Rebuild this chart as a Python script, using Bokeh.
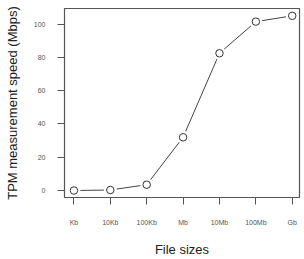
from bokeh.plotting import figure
from bokeh.models import FixedTicker, Range1d, ColumnDataSource
from bokeh.embed import file_html
from bokeh.resources import INLINE

categories = ["Kb", "10Kb", "100Kb", "Mb", "10Mb", "100Mb", "Gb"]
speeds = [0.0, 0.3, 3.5, 32.0, 82.5, 101.5, 105.0]
y_ticks = [0, 20, 40, 60, 80, 100]
x_title = "File sizes"
y_title = "TPM measurement speed (Mbps)"

xs = list(range(1, len(categories) + 1))
src = ColumnDataSource(dict(x=xs, y=speeds))

p = figure(width=304, height=259, output_backend="svg", toolbar_location=None,
           x_range=Range1d(0.74, 7.2), y_range=Range1d(-4.2, 109.4))
p.min_border_left = 64
p.min_border_right = 5
p.min_border_top = 8
p.min_border_bottom = 62
p.xgrid.visible = False
p.ygrid.visible = False
p.background_fill_color = "white"
p.border_fill_color = "white"
p.outline_line_color = "#555555"
p.outline_line_width = 1.2

p.line("x", "y", source=src, line_color="#444444", line_width=1)
p.scatter("x", "y", source=src, size=13, fill_color="white", line_color=None)
p.scatter("x", "y", source=src, size=7.5, fill_color="white", line_color="#333333", line_width=1)

for ax in (p.xaxis[0], p.yaxis[0]):
    ax.axis_line_color = "#555555"
    ax.major_tick_line_color = "#555555"
    ax.major_tick_out = 7
    ax.major_tick_in = 0
    ax.minor_tick_line_color = None
    ax.major_label_text_font = "Liberation Sans"
    ax.major_label_text_font_size = "7px"
    ax.major_label_text_color = "#555555"
    ax.axis_label_text_font = "Liberation Sans"
    ax.axis_label_text_font_size = "13px"
    ax.axis_label_text_font_style = "normal"
    ax.axis_label_text_color = "#222222"

p.xaxis.ticker = FixedTicker(ticks=xs)
p.xaxis.major_label_overrides = {x: c for x, c in zip(xs, categories)}
p.xaxis.major_label_standoff = 14
p.xaxis.axis_label = x_title
p.xaxis.axis_label_standoff = 13

p.yaxis.ticker = FixedTicker(ticks=y_ticks)
p.yaxis.major_label_orientation = "horizontal"
p.yaxis.major_label_standoff = 12
p.yaxis.axis_label = y_title
p.yaxis.axis_label_standoff = 11

open("out.html", "w").write(file_html(p, INLINE))
